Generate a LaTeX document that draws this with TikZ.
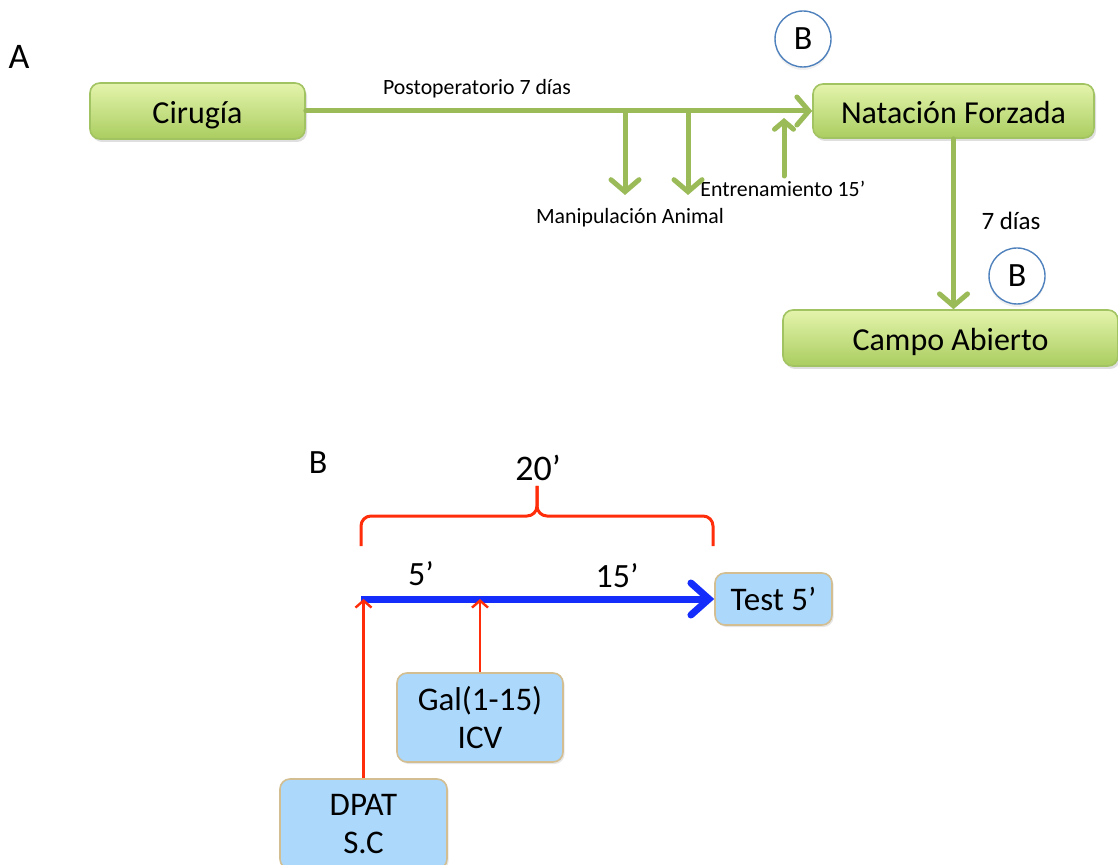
\documentclass[tikz,border=0pt]{standalone}
\usepackage{fontspec}
\setmainfont{Carlito}
\usetikzlibrary{arrows.meta,shadows,positioning}

\definecolor{olive-green}{RGB}{155,187,89}
\definecolor{green-top}{RGB}{228,244,172}
\definecolor{green-bottom}{RGB}{170,205,96}
\definecolor{green-edge}{RGB}{162,195,98}
\definecolor{sky-blue}{RGB}{172,216,251}
\definecolor{tan-edge}{RGB}{210,190,145}
\definecolor{ring-blue}{RGB}{79,129,189}
\definecolor{time-blue}{RGB}{20,45,250}
\definecolor{inj-red}{RGB}{255,45,10}

\begin{document}
\begin{tikzpicture}[
        x=0.5pt, y=-0.5pt,
        stage/.style={shape=rectangle, draw=green-edge, line width=0.8pt, rounded corners=5pt,
            top color=green-top, bottom color=green-bottom, font=\fontsize{16}{19}\selectfont,
            text height=12.5pt, text depth=0pt,
            drop shadow={opacity=0.25, shadow xshift=1pt, shadow yshift=-1.5pt}},
        drug/.style={shape=rectangle, draw=tan-edge, line width=0.8pt, rounded corners=5pt,
            fill=sky-blue, align=center, font=\fontsize{16.5}{19}\selectfont,
            drop shadow={opacity=0.2, shadow xshift=0.8pt, shadow yshift=-1pt}},
        tag/.style={circle, draw=ring-blue, line width=0.7pt, fill=white, minimum size=28pt,
            inner sep=0pt, font=\fontsize{17}{19}\selectfont,
            drop shadow={opacity=0.12, shadow xshift=0pt, shadow yshift=-1.5pt}},
        note/.style={font=\fontsize{10.9}{13}\selectfont, inner sep=0pt},
        flow/.style={draw=olive-green, line width=2.5pt, line cap=round,
            -{Straight Barb[length=6pt, width=14pt, line cap=round]}},
        timeline/.style={draw=time-blue, line width=3.5pt,
            -{Straight Barb[length=9pt, width=16pt, line cap=round]}},
        inject/.style={draw=inj-red, line width=1.2pt,
            -{Straight Barb[length=3.5pt, width=8pt]}},
    ]
    \useasboundingbox (0,0) rectangle (1118,865);

    % --- A: esquema general
    \node[font=\fontsize{18}{20}\selectfont] (A) at (19,57) {A};
    \node[stage, minimum width=107.5pt, minimum height=28pt] (cirugia) at (197.5,111) {Cirugía};
    \node[stage, minimum width=140.5pt, minimum height=27pt] (natacion) at (953.5,111) {Natación Forzada};
    \node[stage, minimum width=167.5pt, minimum height=28pt] (campo) at (950.5,338) {Campo Abierto};
    \node[tag] (b1) at (803,39) {B};
    \node[tag] (b2) at (1017,276) {B};

    \node[note] (postop) at (477,89) {Postoperatorio 7 días};
    \node[note] (manip) at (630,218) {Manipulación Animal};
    \node[note, anchor=west] (entren) at (700,189) {Entrenamiento 15’};
    \node[note, font=\fontsize{12.5}{14}\selectfont] (siete) at (1011,221) {7 días};

    \coordinate (m1) at (625,111);
    \coordinate (m1 end) at (625,195);
    \coordinate (m2) at (688,111);
    \coordinate (m2 end) at (688,195);
    \coordinate (ent) at (784,176);
    \coordinate (ent end) at (784,118);

    \draw[flow] (cirugia) -- (natacion);
    \draw[flow] (m1) -- (m1 end);
    \draw[flow] (m2) -- (m2 end);
    \draw[flow, -{Straight Barb[length=4pt, width=9.5pt, line cap=round]}] (ent) -- (ent end);
    \draw[flow] (natacion.south) -- (natacion.south |- campo.north);

    % --- B: protocolo de 20 minutos
    \node[font=\fontsize{17}{20}\selectfont] (B) at (318,463) {B};
    \node[font=\fontsize{18}{20}\selectfont] (veinte) at (538,468) {20’};
    \node[font=\fontsize{17}{20}\selectfont] (cinco) at (421,574) {5’};
    \node[font=\fontsize{17}{20}\selectfont] (quince) at (617,576) {15’};

    \node[drug, minimum width=58.5pt, minimum height=26pt] (test) at (773.5,599) {Test 5’};
    \node[drug, minimum width=83pt, minimum height=44.5pt] (gal) at (480,717.5) {Gal(1-15)\\ICV};
    \node[drug, minimum width=83.5pt, minimum height=45pt] (dpat) at (363.5,824) {DPAT\\S.C};

    \coordinate (t0) at (361,599);
    \coordinate (t5) at (480,599);
    \draw[timeline] (t0) -- (test.west);
    \draw[inject] (dpat.north) -- (dpat.north |- t0);
    \draw[inject] (gal.north) -- (t5);

    % llave sobre la linea de tiempo
    \coordinate (br left) at (361,546);
    \coordinate (br right) at (713,546);
    \coordinate (br mid) at (537,516);
    \coordinate (br top) at (537,486);
    \draw[inj-red, line width=1.5pt, rounded corners=5pt] (br left) |- (br mid) -- (br top);
    \draw[inj-red, line width=1.5pt, rounded corners=5pt] (br right) |- (br mid) -- (br top);
\end{tikzpicture}
\end{document}
